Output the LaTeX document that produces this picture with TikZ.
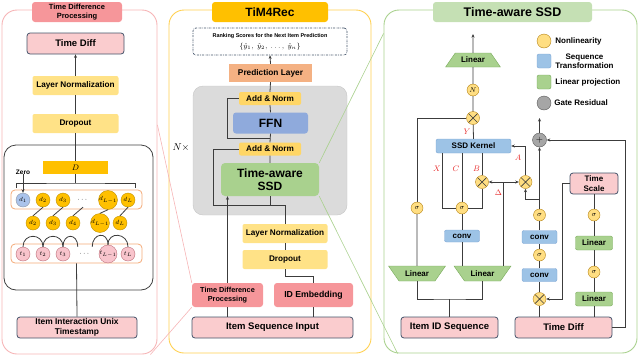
\documentclass[tikz,border=0pt]{standalone}
\usepackage{fontspec}
\setmainfont{Liberation Sans}
\usepackage{amsmath}
\usepackage{xcolor}
\definecolor{slate}{RGB}{68,84,106}
\definecolor{pinkfill}{RGB}{250,204,206}
\definecolor{redfill}{RGB}{246,150,154}
\definecolor{yelfill}{RGB}{255,226,135}
\definecolor{anfill}{RGB}{255,214,102}
\definecolor{goldfill}{RGB}{255,192,0}
\definecolor{goldedge}{RGB}{191,144,0}
\definecolor{salmon}{RGB}{244,177,131}
\definecolor{ffnblue}{RGB}{143,170,220}
\definecolor{ssdgreen}{RGB}{169,209,142}
\definecolor{lgreen}{RGB}{197,224,180}
\definecolor{gedge}{RGB}{120,170,90}
\definecolor{kblue}{RGB}{157,195,230}
\definecolor{kedge}{RGB}{125,165,212}
\definecolor{circfill}{RGB}{255,222,130}
\definecolor{circedge}{RGB}{180,130,20}
\definecolor{gatefill}{RGB}{166,166,166}
\definecolor{dblue}{RGB}{170,195,235}
\definecolor{tfill}{RGB}{248,196,204}
\definecolor{tedge}{RGB}{190,110,120}
\definecolor{rowedge}{RGB}{244,170,120}
\definecolor{panelpink}{RGB}{246,180,182}
\definecolor{panelyel}{RGB}{255,208,80}
\definecolor{panelgrn}{RGB}{169,209,142}
\definecolor{mathred}{RGB}{230,40,40}
\definecolor{wirecol}{RGB}{60,60,60}
\usepackage{tikz}
\usetikzlibrary{shapes.geometric, arrows.meta, positioning, calc}
\newcommand{\fsz}[2]{\fontsize{#1}{#2}\selectfont}
\tikzset{
  panel/.style={rectangle, rounded corners=15pt, line width=0.9pt, inner sep=0pt},
  ttl/.style={rectangle, rounded corners=3pt, inner sep=0pt, align=center, font=\bfseries},
  pbox/.style={rectangle, draw=slate, fill=pinkfill, line width=0.8pt,
    rounded corners=3pt, inner sep=0pt, align=center, font=\bfseries\fsz{9.5}{10}},
  ybox/.style={rectangle, fill=yelfill, rounded corners=2pt, inner sep=0pt,
    align=center, font=\bfseries\fsz{8.2}{9}},
  rbox/.style={rectangle, fill=redfill, rounded corners=3pt, inner sep=0pt,
    align=center, font=\bfseries},
  kbox/.style={rectangle, draw=kedge, fill=kblue, rounded corners=2pt, inner sep=0pt,
    align=center, font=\bfseries\fsz{8}{9}},
  gbox/.style={rectangle, draw=gedge, fill=ssdgreen, rounded corners=2pt, inner sep=0pt,
    align=center, font=\bfseries\fsz{8}{9}},
  linup/.style={trapezium, trapezium left angle=42, trapezium right angle=42,
    trapezium stretches=true, draw=gedge, fill=ssdgreen, inner sep=0pt,
    minimum width=55pt, minimum height=14pt, font=\bfseries\fsz{8}{9}},
  lindown/.style={linup, trapezium left angle=140, trapezium right angle=140,
    minimum width=57pt, minimum height=15pt},
  nl/.style={circle, draw=circedge, fill=circfill, minimum size=12pt, inner sep=0pt,
    font=\fsz{7}{8}},
  mul/.style={nl, minimum size=13pt, path picture={
    \draw[line width=0.7pt, wirecol] (path picture bounding box.north west) -- (path picture bounding box.south east)
      (path picture bounding box.north east) -- (path picture bounding box.south west);}},
  gres/.style={circle, draw=black!65, fill=gatefill, minimum size=14pt, inner sep=0pt,
    font=\fsz{9}{9}},
  dnode/.style={circle, draw=goldedge, fill=goldfill, minimum size=14pt, inner sep=0pt,
    font=\fsz{6}{6}},
  tnode/.style={circle, draw=tedge, fill=tfill, minimum size=14pt, inner sep=0pt,
    font=\fsz{6}{6}},
  dots/.style={minimum width=14pt, minimum height=14pt, inner sep=0pt, font=\fsz{7}{7}},
  rowbox/.style={rectangle, draw=rowedge, fill=white, line width=0.8pt, rounded corners=4pt,
    minimum width=131pt, minimum height=19pt},
  lbl/.style={text=mathred, font=\fsz{8}{9}, inner sep=1pt},
  legtxt/.style={font=\bfseries\fsz{8}{9}, inner sep=0pt, align=center},
  wire/.style={line width=0.8pt, draw=wirecol},
  arr/.style={wire, -{Stealth[length=3.5pt, width=3pt]}},
  zoomp/.style={draw=panelpink, line width=0.6pt},
  zoomg/.style={draw=panelgrn, line width=0.6pt},
}

\begin{document}
\begin{tikzpicture}[x=1pt, y=-1pt]
  \useasboundingbox (0,0) rectangle (640,357);
  % three panels
  \node[panel, draw=panelpink, minimum width=155pt, minimum height=344pt] (lpan) at (79.5,182) {};
  \node[panel, draw=panelyel, minimum width=202pt, minimum height=343pt] (cpan) at (270,181.5) {};
  \node[panel, draw=panelgrn, minimum width=253pt, minimum height=343pt] (rpan) at (510.5,181.5) {};
  \node[ttl, fill=redfill, minimum width=90pt, minimum height=20pt, font=\bfseries\fsz{7.5}{8.5}]
    (ltitle) at (77,12) {Time Difference\\Processing};
  \node[ttl, fill=goldfill, minimum width=116pt, minimum height=20pt, font=\bfseries\fsz{12}{13}]
    (ctitle) at (270,12) {TiM4Rec};
  \node[ttl, fill=lgreen, minimum width=159pt, minimum height=20pt, font=\bfseries\fsz{12.5}{13}]
    (rtitle) at (512.5,12) {Time-aware SSD};

  % time difference processing
  \node[pbox, minimum width=97pt, minimum height=21pt] (ltd) at (75.5,43.5) {Time Diff};
  \node[ybox, minimum width=86pt, minimum height=19pt] (lln) at (75.5,85.5) {Layer Normalization};
  \node[ybox, minimum width=86pt, minimum height=19pt] (ldrop) at (75.5,123.5) {Dropout};
  \node[rectangle, draw=black!75, line width=0.8pt, rounded corners=12pt,
        minimum width=149pt, minimum height=145pt] (dbox) at (78.5,217.5) {};
  \node[rectangle, fill=goldfill, minimum width=65pt, minimum height=13pt, inner sep=0pt,
        font=\fsz{8}{8}] (dbar) at (75.5,167.5) {$D$};
  \node[font=\bfseries\fsz{6.5}{7}, inner sep=0pt] (zero) at (23,172) {Zero};
  \coordinate (brk) at (75.5,183);
  \node[rowbox] (row1) at (76.5,199.5) {};
  \node[rowbox] (row3) at (76.5,253.5) {};
  \node[dnode, draw=slate!60, fill=dblue] (d1a) at (23,200) {$d_1$};
  \node[dnode] (d2a) at (43,200) {$d_2$};
  \node[dnode] (d3a) at (63,200) {$d_3$};
  \node[dots] (dda) at (83,200) {$\cdots$};
  \node[dnode] (dL1a) at (108,200) {$d_{L-1}$};
  \node[dnode] (dLa) at (128,200) {$d_L$};
  \node[dnode] (d2b) at (33,223) {$d_2$};
  \node[dnode] (d3b) at (53,223) {$d_3$};
  \node[dnode] (d4b) at (73,223) {$d_4$};
  \node[dnode] (dL1b) at (100,223) {$d_{L-1}$};
  \node[dnode] (dLb) at (120,223) {$d_L$};
  \node[tnode] (t1) at (23,254) {$t_1$};
  \node[tnode] (t2) at (43,254) {$t_2$};
  \node[tnode] (t3) at (63,254) {$t_3$};
  \node[dots] (tdd) at (85,254) {$\cdots$};
  \node[tnode] (tL1) at (108,254) {$t_{L-1}$};
  \node[tnode] (tL) at (128,254) {$t_L$};
  \node[pbox, minimum width=120pt, minimum height=21pt, font=\bfseries\fsz{8.4}{10}]
    (iiut) at (77,327.5) {Item Interaction Unix\\Timestamp};

  \draw[wire] (dbar.north) -- (ldrop.south);
  \draw[wire] (ldrop.north) -- (lln.south);
  \draw[arr] (lln.north) -- (ltd.south);
  \draw[wire] (dbar.south) -- (brk);
  \draw[wire] (16,188) |- (brk) -| (135,188);
  \draw[arr] (zero.south) -- (d1a.north);
  \draw[wire] (d2b.north) -- (d2a.south);
  \draw[wire] (d3b.north) -- (d3a.south);
  \draw[wire] (d4b.north) -- (dda.south);
  \draw[wire] (dL1b.north) -- (dL1a.south);
  \draw[wire] (dLb.north) -- (dLa.south);
  \draw[wire] (t1.north) .. controls +(0,-14) and +(0,-14) .. (t2.north);
  \draw[wire] (t2.north) .. controls +(0,-14) and +(0,-14) .. (t3.north);
  \draw[wire] (t3.north) .. controls +(0,-14) and +(0,-14) .. (tdd.north west);
  \draw[wire] (tdd.north east) .. controls +(0,-14) and +(0,-14) .. (tL1.north);
  \draw[wire] (tL1.north) .. controls +(0,-14) and +(0,-14) .. (tL.north);
  \draw[wire] (row3.south) -- (iiut.north);

  % TiM4Rec
  \node[rectangle, draw=slate, line width=0.7pt, dash pattern=on 2pt off 1pt on 0.6pt off 1pt,
        rounded corners=3pt, minimum width=154pt, minimum height=27pt, inner sep=0pt, align=center,
        font=\fsz{7}{9}]
    (rank) at (270,41.5)
    {{\bfseries\fsz{5.5}{7}Ranking Scores for the Next Item Prediction}\\[2pt]
     $\{\hat{y}_1,\ \hat{y}_2,\ \ldots,\ \hat{y}_n\}$};
  \node[rectangle, fill=salmon, minimum width=83pt, minimum height=18pt, inner sep=0pt,
        font=\bfseries\fsz{8.3}{9}] (pred) at (270.5,73) {Prediction Layer};
  \node[rectangle, draw=gray!45, fill=gray!28, rounded corners=10pt,
        minimum width=154pt, minimum height=129pt] (blk) at (270,150.5) {};
  \node[ybox, fill=anfill, minimum width=62pt, minimum height=13pt] (an1) at (270,98.5) {Add \& Norm};
  \node[rectangle, fill=ffnblue, rounded corners=3pt, minimum width=75pt, minimum height=21pt,
        inner sep=0pt, font=\bfseries\fsz{12}{12}] (ffn) at (270.5,123) {FFN};
  \node[ybox, fill=anfill, minimum width=62pt, minimum height=13pt] (an2) at (270,149) {Add \& Norm};
  \node[rectangle, fill=ssdgreen, rounded corners=4pt, minimum width=98pt, minimum height=33pt,
        inner sep=0pt, align=center, font=\bfseries\fsz{12}{13}] (cssd) at (270,179.5) {Time-aware\\SSD};
  \node[font=\fsz{10}{10}, inner sep=0pt] (nrep) at (181,147) {$N\times$};
  \node[ybox, minimum width=85pt, minimum height=19pt] (cln) at (285,233.5) {Layer Normalization};
  \node[ybox, minimum width=85pt, minimum height=19pt] (cdrop) at (285,259.5) {Dropout};
  \node[rbox, minimum width=71pt, minimum height=24pt, font=\bfseries\fsz{7.3}{8.5}]
    (ctdp) at (227.5,295) {Time Difference\\Processing};
  \node[rbox, minimum width=79pt, minimum height=24pt, font=\bfseries\fsz{8.7}{9}]
    (idemb) at (313.5,295) {ID Embedding};
  \node[pbox, minimum width=161pt, minimum height=21pt] (isi) at (272.5,327.5) {Item Sequence Input};
  \coordinate (jf) at (270,138);
  \coordinate (js) at (270,205);

  \draw[arr] (pred.north) -- (rank.south);
  \draw[wire] (cssd.north) -- (an2.south) (an2.north) -- (ffn.south)
    (ffn.north) -- (an1.south) (an1.north) -- (pred.south);
  \draw[wire] (jf) -- ++(-43,0) |- (an1.west);
  \draw[wire] (cln.north) |- (js) -- (cssd.south);
  \draw[wire] (js) -- ++(-57,0) |- (an2.west);
  \draw[wire] (cdrop.north) -- (cln.south);
  \draw[wire] (idemb.north) -- ++(0,-6) -| (cdrop.south);
  \draw[wire] (isi.north -| idemb.south) -- (idemb.south);
  \draw[wire] (isi.north -| ctdp.south) -- (ctdp.south);
  \draw[arr] (ctdp.north) -- (ctdp.north |- cssd.south);

  % zoom lines
  \draw[zoomp] ([yshift=57pt]lpan.east) -- (ctdp.north west);
  \draw[zoomp] (ctdp.south west) -- ([xshift=-7pt]lpan.south east);
  \draw[zoomg] (cssd.north east) -- ([yshift=148pt]rpan.west);
  \draw[zoomg] (cssd.south east) -- ([xshift=14pt]rpan.south west);

  % Time-aware SSD legend
  \node[nl, minimum size=14pt] (lg1) at (544,41) {};
  \node[kbox, minimum size=14pt] (lg2) at (544,61) {};
  \node[gbox, minimum size=14pt] (lg3) at (544,82) {};
  \node[gres, minimum size=14pt] (lg4) at (544,103) {};
  \node[legtxt, right=4pt of lg1] (lt1) {Nonlinearity};
  \node[legtxt, right=4pt of lg2] (lt2) {Sequence\\Transformation};
  \node[legtxt, right=4pt of lg3] (lt3) {Linear projection};
  \node[legtxt, right=3pt of lg4] (lt4) {Gate Residual};

  % Time-aware SSD block
  \node[linup] (linT) at (473,60) {Linear};
  \node[nl] (nrm) at (473,90) {$N$};
  \node[mul] (mulY) at (473,118) {};
  \node[kbox, minimum width=75pt, minimum height=14pt] (kernel) at (473.5,146) {SSD Kernel};
  \node[mul] (mulB) at (482,182) {};
  \node[mul] (mulA) at (525.5,182) {};
  \node[nl] (sgc) at (462,208) {$\sigma$};
  \node[nl] (sgl) at (417,208) {$\sigma$};
  \node[kbox, minimum width=35pt, minimum height=12pt] (convL) at (462,236) {conv};
  \node[lindown] (linL) at (417,273.5) {Linear};
  \node[lindown] (linR) at (482.5,273.5) {Linear};
  \node[pbox, minimum width=97pt, minimum height=21pt] (iid) at (449.5,327.5) {Item ID Sequence};
  \node[pbox, minimum width=97pt, minimum height=21pt] (rtd) at (563.5,327.5) {Time Diff};
  \node[mul] (mulT) at (539.5,299) {};
  \node[kbox, minimum width=35pt, minimum height=13pt] (convB) at (539.5,275) {conv};
  \node[nl] (sgm) at (539.5,255) {$\sigma$};
  \node[kbox, minimum width=35pt, minimum height=13pt] (convU) at (539.5,237) {conv};
  \node[nl] (sgu) at (539.5,215) {$\sigma$};
  \node[gres] (gate) at (539.5,140) {$+$};
  \node[pbox, minimum width=48pt, minimum height=21pt, font=\bfseries\fsz{8}{10}]
    (tsc) at (594,183.5) {Time\\Scale};
  \node[nl] (sgs) at (594,215) {$\sigma$};
  \node[gbox, minimum width=37pt, minimum height=14pt] (linS1) at (594,243) {Linear};
  \node[nl] (sgt) at (594,272) {$\sigma$};
  \node[gbox, minimum width=37pt, minimum height=14pt] (linS2) at (594,299) {Linear};
  \node[lbl] (lY) at (467,132) {$Y$};
  \node[lbl] (lX) at (437,169) {$X$};
  \node[lbl] (lC) at (456,169) {$C$};
  \node[lbl] (lB) at (476.5,169) {$B$};
  \node[lbl] (lA) at (518,158) {$A$};
  \node[lbl] (lD) at (498.5,193) {$\Delta$};
  \coordinate (tout) at (473,34);
  \coordinate (gout) at (539.5,118);
  \coordinate (dj) at (503,182);
  \coordinate (ja) at (539.5,199);
  \coordinate (jI) at (449.5,299);

  \draw[arr] (linT.north) -- (tout);
  \draw[wire] (linT.south) -- (nrm) -- (mulY);
  \draw[wire] (mulY) -- (kernel.north);
  \draw[wire] (mulY) -| (sgl);
  \draw[wire] (sgl) -- (linL.north);
  \draw[wire] (sgc) -| ([xshift=6.5pt]kernel.south west);
  \draw[wire] (sgc) -- (sgc |- kernel.south);
  \draw[wire] (sgc) -| (mulB);
  \draw[wire] (mulB) -- (mulB |- kernel.south);
  \draw[arr] (dj) -- (mulB);
  \draw[arr] (dj) -- (mulA);
  \draw[wire] (dj) -- (dj |- linR.north);
  \draw[arr] (mulA) |- (kernel.east);
  \draw[wire] (sgc) -- (convL);
  \draw[wire] (convL.south) -- (convL.south |- linR.north);
  \draw[wire] (linL.south) |- (jI) -| (linR.south);
  \draw[wire] (jI) -- (iid.north);
  \draw[wire] (rtd.north -| mulT) -- (mulT);
  \draw[wire] (mulT) -- (convB) -- (sgm) -- (convU) -- (sgu);
  \draw[arr] (sgu) -- (gate);
  \draw[arr] (gate) -- (gout);
  \draw[arr] (ja) -| (mulA);
  \draw[arr] (tsc.west) -- ++(-7,0) |- (mulT);
  \draw[wire] (rtd.north -| linS2) -- (linS2) -- (sgt) -- (linS1) -- (sgs) -- (tsc);
  \draw[arr] (rtd.east) -- ++(13,0) |- (gate);
\end{tikzpicture}
\end{document}
